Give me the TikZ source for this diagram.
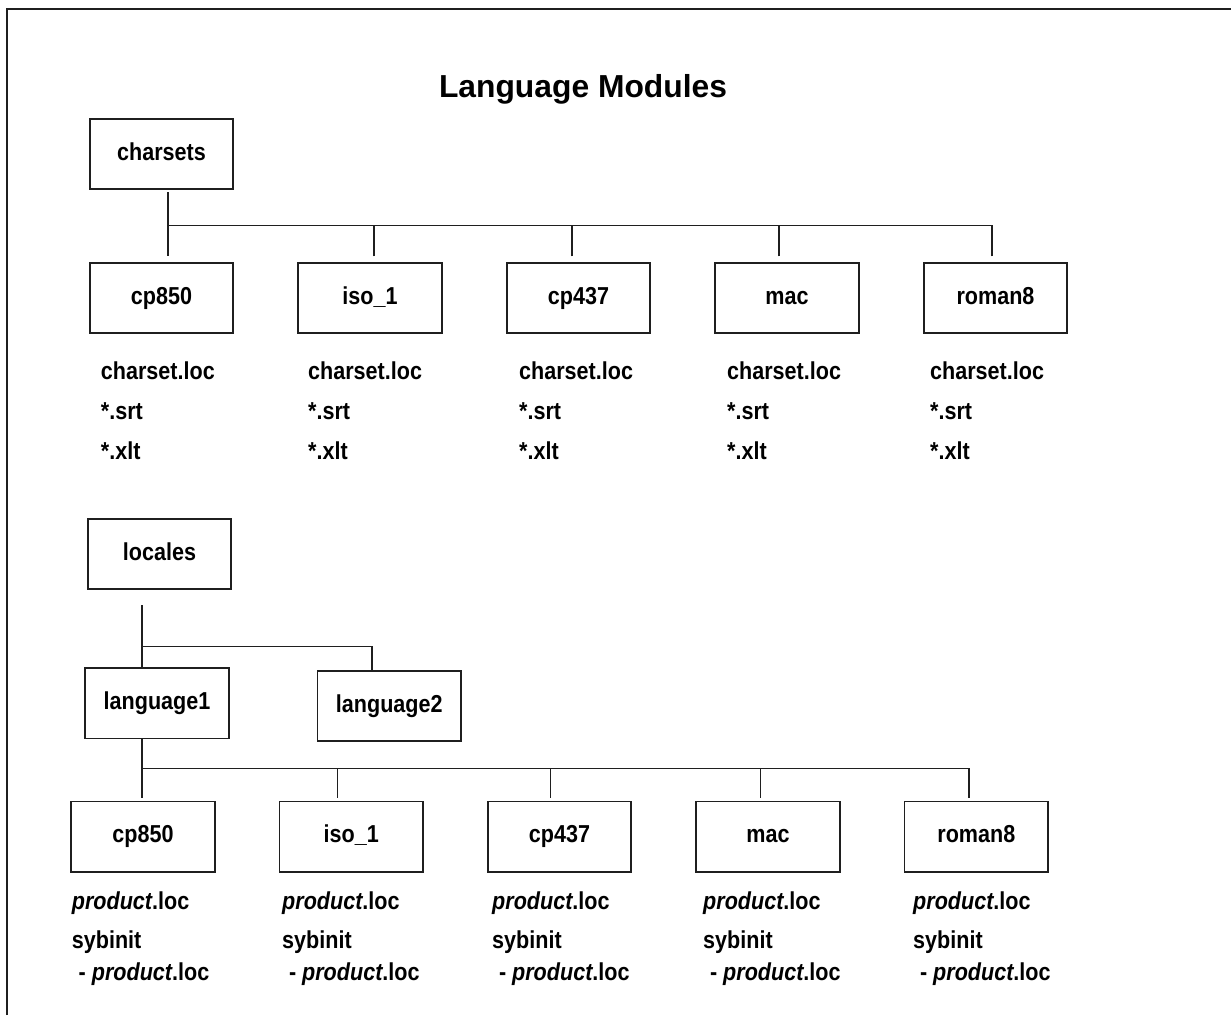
\documentclass[tikz,border=0pt]{standalone}
\usepackage{fontspec}
\newfontfamily\labelfont{Liberation Sans}[FakeStretch=0.88]
\newfontfamily\headfont{Liberation Sans}
\definecolor{ink}{gray}{0.12}
\tikzset{
  box/.style={draw=ink, line width=1.7pt, minimum width=143.5pt, minimum height=70.5pt,
    inner sep=0pt, text height=17.6pt, text depth=5.4pt,
    font=\labelfont\bfseries\fontsize{24.5}{29}\selectfont},
  link/.style={draw=ink, line width=1.3pt},
  item/.style={anchor=base west, inner sep=0pt,
    font=\labelfont\bfseries\fontsize{24.5}{29}\selectfont},
  frame/.style={draw=ink, line width=1.8pt},
}
\begin{document}
\begin{tikzpicture}[x=1pt, y=-1pt]
\useasboundingbox (0,0) rectangle (1231,1015);
\fill[white] (0,0) rectangle (1231,1015);

% page frame (left and top edges)
\draw[frame] (7,1015) -- (7,9) -- (1231,9);

% heading
\node[anchor=base, inner sep=0pt, text=black,
  font=\headfont\bfseries\fontsize{31.8}{38}\selectfont] (title) at (583,97) {Language Modules};

% ---------- character sets ----------
\node[box] (charsets) at (161.5,154) {charsets};
\node[box] (cpA)   at (161.5,298) {cp850};
\node[box] (isoA)  at (370,298)   {iso\_1};
\node[box] (cpbA)  at (578.5,298) {cp437};
\node[box] (macA)  at (787,298)   {mac};
\node[box] (romA)  at (995.5,298) {roman8};

\draw[link] ([xshift=6.5pt,yshift=-2pt]charsets.south) -- ++(0,33.5) coordinate (jA)
            -- ([xshift=6.5pt,yshift=5.5pt]cpA.north);
\foreach \n/\dx in {isoA/4, cpbA/-6.5, macA/-8, romA/-3.5}
  \draw[link] ([xshift=\dx pt,yshift=5.5pt]\n.north) |- (jA);

\foreach \n/\x in {1/100.7, 2/308, 3/519, 4/727, 5/930}{
  \node[item] (csloc\n) at (\x,379) {charset.loc};
  \node[item] (cssrt\n) at (\x,419) {*.srt};
  \node[item] (csxlt\n) at (\x,459) {*.xlt};
}

% ---------- locales ----------
\node[box] (locales)   at (159.5,554) {locales};
\node[box] (language1) at (157,703.3) {language1};
\node[box] (language2) at (389.3,706) {language2};

\draw[link] ([xshift=-17.5pt,yshift=-15pt]locales.south) -- ++(0,41.5) coordinate (jB)
            -- (language1.north -| jB);
\draw[link] ([xshift=-17.3pt]language2.north) |- (jB);

\node[box] (cpB)  at (143,836.6)   {cp850};
\node[box] (isoB) at (351.3,836.6) {iso\_1};
\node[box] (cpbB) at (559.5,836.6) {cp437};
\node[box] (macB) at (768,836.6)   {mac};
\node[box] (romB) at (976.3,836.6) {roman8};

\draw[link] (language1.south -| jB) -- ++(0,29) coordinate (jC);
\foreach \n/\dx in {cpB/-1, isoB/-14, cpbB/-8.8, macB/-7.3, romB/-7.3}
  \draw[link] ([xshift=\dx pt,yshift=3pt]\n.north) |- (jC);

\foreach \n/\x in {1/71.7, 2/282, 3/492, 4/703, 5/913}{
  \node[item] (prloc\n) at (\x,909) {\textit{product}.loc};
  \node[item] (sybin\n) at (\x,948) {sybinit};
  \node[item] (sbloc\n) at (\x,980) {\hspace{0.278em}- \textit{product}.loc};
}
\end{tikzpicture}
\end{document}
